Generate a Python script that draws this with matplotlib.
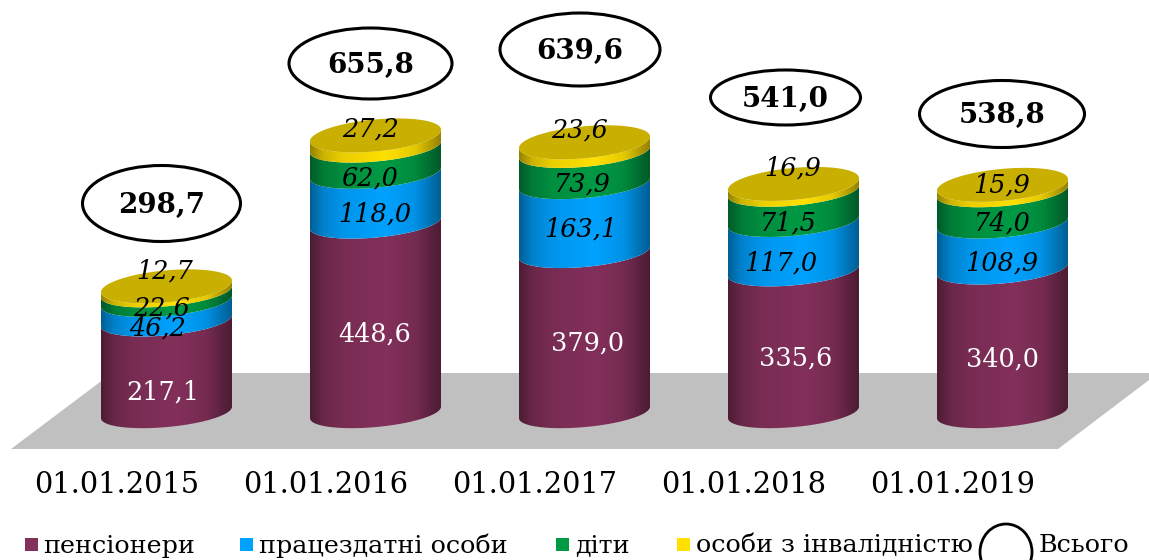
import numpy as np
import matplotlib
matplotlib.use("Agg")
import matplotlib.pyplot as plt
from matplotlib.colors import to_rgb
from matplotlib.patches import Ellipse, Polygon, PathPatch, Rectangle
from matplotlib.path import Path
from matplotlib.transforms import Affine2D

# ---- data ----
dates = ["01.01.2015", "01.01.2016", "01.01.2017", "01.01.2018", "01.01.2019"]
pensioners = [217.1, 448.6, 379.0, 335.6, 340.0]
workers = [46.2, 118.0, 163.1, 117.0, 108.9]
children = [22.6, 62.0, 73.9, 71.5, 74.0]
disabled = [12.7, 27.2, 23.6, 16.9, 15.9]
totals = [298.7, 655.8, 639.6, 541.0, 538.8]
series_names = ["пенсіонери", "працездатні особи", "діти", "особи з інвалідністю"]
total_name = "Всього"

# ---- style / layout ----
W, H = 1149, 560
FONT = "DejaVu Serif"
colors = ["#83305A", "#00A2FF", "#009A44", "#FFE000"]
CAP = "#C8AF00"
FLOOR = "#C0C0C0"
Y0_PX = 412.5      # pixel row of value 0
PX_PER_UNIT = 0.4225
X0_PX = 166.5      # pixel column of first cylinder
STEP_PX = 209.0
HALF_W = 65.5
TILT = 5.75
SEMI_B = 14.6
SEMI_CAP = 16.0
AX_BOTTOM_PX = 450

seg_label_x = [[163, 158, 162, 165], [375, 375, 370, 371], [588, 581, 582, 580],
               [796, 781, 788, 793], [1002, 1002, 1002, 1002]]
seg_label_y = [[392, 328, 308, 271], [334, 214, 178, 129], [343, 229, 184, 130],
               [358, 263, 223, 168], [359, 263, 223, 185]]
bubble_xy = [(161.5, 203.5), (370.5, 63.5), (580, 49.5), (785.5, 97.5), (1002, 114)]
bubble_wh = [(158, 76), (163, 71), (160, 73), (150, 55), (165, 67)]
total_text_dy = 1.5
legend_swatch_x = [25, 240, 556, 677]
legend_text_x = [43, 259, 575, 696]

fig = plt.figure(figsize=(W / 100, H / 100), dpi=100, facecolor="white")
ax = fig.add_axes([0, (H - AX_BOTTOM_PX) / H, 1, AX_BOTTOM_PX / H])
xlim = (-X0_PX / STEP_PX, (W - X0_PX) / STEP_PX)
ylim = ((Y0_PX - AX_BOTTOM_PX) / PX_PER_UNIT, Y0_PX / PX_PER_UNIT)
px = Affine2D().scale(1 / W, -1 / H).translate(0, 1) + fig.transFigure

# floor
ax.add_patch(Polygon([(11, 449), (112, 373), (1149, 373), (1149, 380), (1058, 449)],
                     closed=True, fc=FLOOR, ec="none", transform=px, zorder=1))

half_w = HALF_W / STEP_PX
tilt = TILT / PX_PER_UNIT
semi_b = SEMI_B / PX_PER_UNIT
semi_cap = SEMI_CAP / PX_PER_UNIT
t = np.linspace(np.pi, 2 * np.pi, 80)
ct, st = np.cos(t), np.sin(t)
grad_pos = [0, 0.1, 0.25, 0.58, 0.8, 1]
grad_fac = [0.58, 0.8, 0.92, 1, 0.9, 0.58]
g = np.interp(np.linspace(0, 1, 256), grad_pos, grad_fac)


def body(i, lo, hi, color, top_semi):
    xs = i + half_w * ct
    bottom = lo + tilt * ct + semi_b * st
    top = hi + tilt * ct + top_semi * st
    verts = np.r_[np.c_[xs, bottom], np.c_[xs[::-1], top[::-1]], [[xs[0], bottom[0]]]]
    clip = PathPatch(Path(verts), fc="none", ec="none", transform=ax.transData)
    ax.add_patch(clip)
    rgb = np.array(to_rgb(color))
    img = (g[:, None] * rgb)[None, :, :]
    im = ax.imshow(img, extent=(i - half_w, i + half_w, lo - 2 * semi_cap, hi + 2 * semi_cap),
                   aspect="auto", zorder=2, interpolation="bilinear")
    im.set_clip_path(clip)


stack = [pensioners, workers, children, disabled]
for i in range(len(dates)):
    lo = 0.0
    for s, vals in enumerate(stack):
        body(i, lo, lo + vals[i], colors[s], semi_cap if s == len(stack) - 1 else semi_b)
        lo += vals[i]
    tt = np.linspace(0, 2 * np.pi, 160)
    ax.fill(i + half_w * np.cos(tt), lo + tilt * np.cos(tt) + semi_cap * np.sin(tt),
            fc=CAP, ec="none", zorder=3)
    for s, vals in enumerate(stack):
        ax.text(seg_label_x[i][s], seg_label_y[i][s], f"{vals[i]:.1f}".replace(".", ","),
                transform=px, ha="center", va="center", family=FONT, fontsize=18.4,
                color="white" if s == 0 else "black", style="normal" if s == 0 else "italic",
                zorder=5)
    bx, by = bubble_xy[i]
    bw, bh = bubble_wh[i]
    ax.add_patch(Ellipse((bx, by), bw, bh, fc="white", ec="black", lw=2.2, transform=px, zorder=4))
    ax.text(bx, by + total_text_dy, f"{totals[i]:.1f}".replace(".", ","), transform=px,
            ha="center", va="center", family=FONT, fontsize=20, fontweight="bold",
            color="black", zorder=5)

ax.set_xlim(xlim)
ax.set_ylim(ylim)
ax.set_xticks(np.arange(len(dates)) - 50 / STEP_PX)
ax.set_xticklabels(dates, family=FONT, fontsize=20.7)
ax.set_yticks([])
ax.tick_params(axis="x", length=0, pad=15)
for sp in ax.spines.values():
    sp.set_visible(False)
ax.patch.set_alpha(0)

# legend
for name, c, sx, tx in zip(series_names, colors, legend_swatch_x, legend_text_x):
    fig.add_artist(Rectangle((sx, 538), 12.5, 12.5, fc=c, ec="none", transform=px))
    fig.text(tx, 546, name, transform=px, ha="left", va="center", family=FONT, fontsize=18.3, color="black")
fig.add_artist(Ellipse((1006, 552), 52, 56, fc="white", ec="black", lw=2.0, transform=px))
fig.text(1039, 546, total_name, transform=px, ha="left", va="center", family=FONT, fontsize=18.3, color="black")

fig.savefig("out.png", dpi=100)
